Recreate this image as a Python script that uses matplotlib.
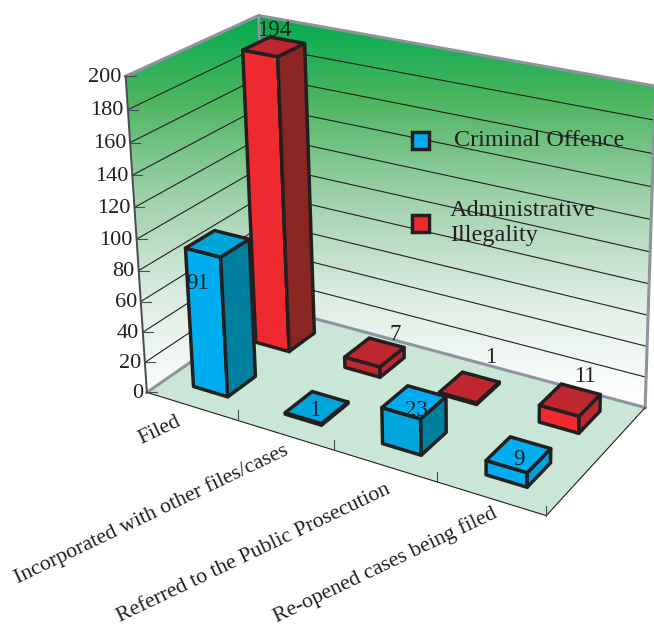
import numpy as np
import matplotlib
matplotlib.use("Agg")
import matplotlib.pyplot as plt
from matplotlib.colors import LinearSegmentedColormap
from matplotlib.patches import Polygon, Rectangle

plt.rcParams['font.family'] = ['Liberation Serif', 'DejaVu Serif']

# Chart values
categories = ['Filed', 'Incorporated with other files/cases',
              'Referred to the Public Prosecution', 'Re-opened cases being filed']
criminal_offence = [91, 1, 23, 9]
administrative_illegality = [194, 7, 1, 11]
value_ticks = list(range(0, 201, 20))

# Box points: (category, depth, value) -> canvas pixel, used to solve the camera
BOX_WORLD = [(0, 0, 0), (4, 0, 0), (4, 1, 0), (0, 1, 0), (0, 0, 200), (0, 1, 200), (4, 1, 200),
             (0, 0, 100), (1, 0, 0), (2, 0, 0), (3, 0, 0)]
BOX_PIXEL = [(146, 392), (547, 516), (645, 408), (271, 307), (125.5, 76), (259, 15), (655, 86),
             (137, 241), (238, 420), (334, 449), (437, 482)]

DARK = '#231F20'
GRAY = '#8E949E'
FLOOR = '#C9E6D6'
BAR_WIDTH = (0.30, 0.68)
BLUE_DEPTH = (0.15, 0.37)
RED_DEPTH = (0.65, 0.87)

# front, right side and top colours of each bar
BLUE_FACES = [('#00AEEF', '#007E9E', '#00A5D8'), ('#00A5DC', '#007E9E', '#00A5DC'),
              ('#00A5DC', '#007E9E', '#00AEEF'), ('#00AEEF', '#00A0D8', '#00AEEF')]
RED_FACES = [('#EE2A30', '#8A2621', '#BE272D'), ('#BE272D', '#BE272D', '#BE272D'),
             ('#BE272D', '#BE272D', '#BE272D'), ('#EE2A30', '#BE272D', '#BE272D')]

# label offsets in pixels from the top centre of each bar
BLUE_LABEL_OFFSET = [(-20, 40), (-2, 3), (2, 8), (0, 5)]
RED_LABEL_OFFSET = [(0, -16), (21, -18), (21, -30), (15, -23)]
CATEGORY_OFFSET = [(-12, 14), (2, 14), (4, 23), (5, 14)]


def solve_camera(world, pixel):
    rows = []
    for (x, y, z), (u, v) in zip(world, pixel):
        u, v = u / 300, v / 300
        rows.append([x, y, z / 100, 1, 0, 0, 0, 0, -u * x, -u * y, -u * z / 100, -u])
        rows.append([0, 0, 0, 0, x, y, z / 100, 1, -v * x, -v * y, -v * z / 100, -v])
    _, _, vt = np.linalg.svd(np.array(rows, dtype=float))
    return vt[-1].reshape(3, 4)


CAMERA = solve_camera(BOX_WORLD, BOX_PIXEL)


def project(x, y, z):
    point = CAMERA @ np.array([x, y, z / 100, 1.0])
    return 300 * point[0] / point[2], 300 * point[1] / point[2]


def line3d(ax, points, **kwargs):
    pts = [project(*p) for p in points]
    ax.plot([p[0] for p in pts], [p[1] for p in pts], **kwargs)


def draw_bar(ax, category, depth, value, faces):
    x0, x1 = category + BAR_WIDTH[0], category + BAR_WIDTH[1]
    y0, y1 = depth
    front = [(x0, y0, 0), (x1, y0, 0), (x1, y0, value), (x0, y0, value)]
    side = [(x1, y0, 0), (x1, y1, 0), (x1, y1, value), (x1, y0, value)]
    top = [(x0, y0, value), (x1, y0, value), (x1, y1, value), (x0, y1, value)]
    for quad, colour in zip((front, side, top), faces):
        ax.add_patch(Polygon([project(*p) for p in quad], closed=True, facecolor=colour,
                             edgecolor=DARK, linewidth=2.5, joinstyle='round', zorder=5))


def bar_label(ax, category, depth, value, offset):
    u, v = project(category + sum(BAR_WIDTH) / 2, sum(depth) / 2, value)
    ax.text(u + offset[0], v + offset[1], str(value), fontsize=16.5, color=DARK,
            ha='center', va='center', zorder=7)


fig = plt.figure(figsize=(6.54, 6.27), dpi=100)
ax = fig.add_axes([0, 0, 1, 1])

# walls share one vertical colour ramp running down the canvas
wall_cmap = LinearSegmentedColormap.from_list(
    'wall', [(0.0, '#00AB4E'), (0.22, '#4DB560'), (0.48, '#A0D2AC'), (0.74, '#DDEDE3'), (1.0, '#FFFFFF')])
ramp = np.linspace(0, 1, 256).reshape(-1, 1)
wall_image = ax.imshow(ramp, cmap=wall_cmap, extent=(0, 654, 400, 15), aspect='auto', zorder=1)
wall_outline = Polygon([project(*p) for p in [(0, 0, 0), (0, 0, 200), (0, 1, 200), (4, 1, 200),
                                              (4, 1, 0), (0, 1, 0)]],
                       closed=True, transform=ax.transData, facecolor='none', edgecolor='none')
ax.add_patch(wall_outline)
wall_image.set_clip_path(wall_outline)

ax.set_xlim(0, 654)
ax.set_ylim(627, 0)
ax.axis('off')

ax.add_patch(Polygon([project(*p) for p in [(0, 0, 0), (4, 0, 0), (4, 1, 0), (0, 1, 0)]],
                     closed=True, facecolor=FLOOR, edgecolor='none', zorder=1.5))

# gridlines over both walls
for tick in value_ticks[1:-1]:
    line3d(ax, [(0, 0, tick), (0, 1, tick), (4, 1, tick)], color=DARK, lw=0.8, zorder=2)

# wall outlines
line3d(ax, [(0, 0, 200), (0, 1, 200), (4, 1, 200)], color=GRAY, lw=2.2, zorder=3,
       solid_joinstyle='miter', clip_on=False)
line3d(ax, [(0, 1, 200), (0, 1, 0)], color=GRAY, lw=2.2, zorder=3)
line3d(ax, [(4, 1, 200), (4, 1, 0)], color=GRAY, lw=2.2, zorder=3)
line3d(ax, [(0, 0, 0), (0, 1, 0), (4, 1, 0)], color=GRAY, lw=2.2, zorder=3, solid_joinstyle='miter')
line3d(ax, [(0, 0, 0), (0, 0, 200)], color='#4A4A55', lw=1.4, zorder=3)
line3d(ax, [(0, 0, 0), (4, 0, 0), (4, 1, 0)], color=DARK, lw=0.8, zorder=3)

# value axis ticks and labels
for tick in value_ticks:
    u, v = project(0, 0, tick)
    ax.plot([u, u + 10], [v, v], color='#4A4A55', lw=0.8, zorder=3)
    ax.text(u - 4, v + 1, str(tick), fontsize=16, color=DARK, ha='right', va='center', zorder=7)

# category ticks along the front edge of the floor
for i in range(1, len(categories) + 1):
    u, v = project(i, 0, 0)
    ax.plot([u, u], [v, v - 10], color='#4A4A55', lw=0.8, zorder=3)

for i, name in enumerate(categories):
    u, v = project(i + 0.5, 0, 0)
    ax.text(u + CATEGORY_OFFSET[i][0], v + CATEGORY_OFFSET[i][1], name, fontsize=15.7, color=DARK,
            rotation=25.5, rotation_mode='anchor', ha='right', va='center', zorder=7)

# bars: the back row first so the front row overlaps it
for i, value in enumerate(administrative_illegality):
    draw_bar(ax, i, RED_DEPTH, value, RED_FACES[i])
for i, value in enumerate(criminal_offence):
    draw_bar(ax, i, BLUE_DEPTH, value, BLUE_FACES[i])
for i, value in enumerate(administrative_illegality):
    bar_label(ax, i, RED_DEPTH, value, RED_LABEL_OFFSET[i])
for i, value in enumerate(criminal_offence):
    bar_label(ax, i, BLUE_DEPTH, value, BLUE_LABEL_OFFSET[i])

# legend drawn on the back wall
ax.add_patch(Rectangle((412, 132), 17, 17, facecolor='#00AEEF', edgecolor=DARK, linewidth=2.5, zorder=8))
ax.add_patch(Rectangle((412, 214.5), 17, 17, facecolor='#EE2A30', edgecolor=DARK, linewidth=2.5, zorder=8))
ax.text(454, 141, 'Criminal Offence', fontsize=17.5, color=DARK, ha='left', va='center', zorder=8)
ax.text(450, 223, 'Administrative\nIllegality', fontsize=17.5, color=DARK, ha='left', va='center',
        linespacing=1.26, zorder=8)

fig.savefig('out.png', dpi=100)
